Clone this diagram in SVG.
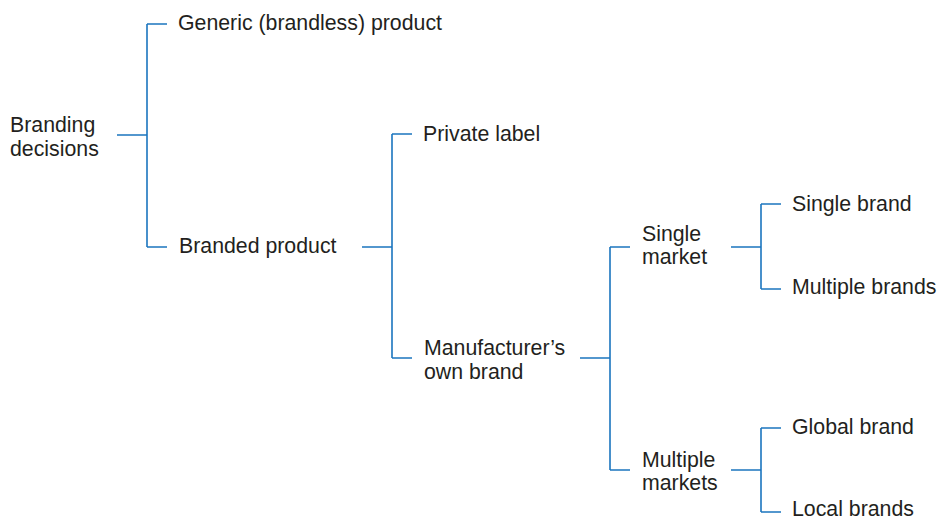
<svg xmlns="http://www.w3.org/2000/svg" width="941" height="519" viewBox="0 0 941 519">
<style>
.t{font-family:"Liberation Sans",Arial,Helvetica,sans-serif;font-size:21.3px;fill:#231f20}
.c{fill:none;stroke:#1b75bf;stroke-width:1.6}
</style>
<rect width="941" height="519" fill="#ffffff"/>
<g id="connectors">
<path class="c" d="M117 135H147M147 24V247M147 24H167M147 247H167"/>
<path class="c" d="M362 247H392M392 134V358M392 134H412M392 358H412"/>
<path class="c" d="M580 358H610M610 247V470M610 247H630M610 470H630"/>
<path class="c" d="M731 247H761M761 204V289M761 204H781M761 289H781"/>
<path class="c" d="M731 470H761M761 428V512M761 428H781M761 512H781"/>
</g>
<g id="branding-decisions"><text class="t" x="10" y="132">Branding</text><text class="t" x="10" y="155.5">decisions</text></g>
<g id="generic-product"><text class="t" x="178" y="30">Generic (brandless) product</text></g>
<g id="branded-product"><text class="t" x="179" y="252.5">Branded product</text></g>
<g id="private-label"><text class="t" x="423" y="141">Private label</text></g>
<g id="manufacturers-own-brand"><text class="t" x="424" y="355">Manufacturer’s</text><text class="t" x="424" y="378.5">own brand</text></g>
<g id="single-market"><text class="t" x="642" y="240.5">Single</text><text class="t" x="642" y="264">market</text></g>
<g id="multiple-markets"><text class="t" x="642" y="466.5">Multiple</text><text class="t" x="642" y="490">markets</text></g>
<g id="single-brand"><text class="t" x="792" y="210.5">Single brand</text></g>
<g id="multiple-brands"><text class="t" x="792" y="294">Multiple brands</text></g>
<g id="global-brand"><text class="t" x="792" y="434">Global brand</text></g>
<g id="local-brands"><text class="t" x="792" y="515.5">Local brands</text></g>
</svg>
